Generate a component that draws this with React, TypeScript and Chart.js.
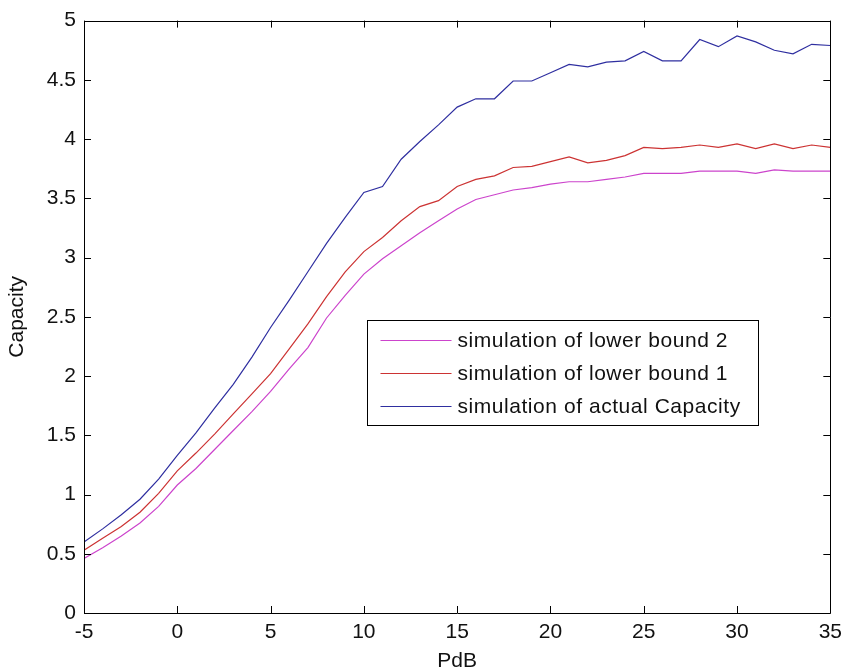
import React, { useEffect, useRef } from "react";
import { Chart, registerables } from "chart.js";

Chart.register(...registerables);

const xValues = [-5,-4,-3,-2,-1,0,1,2,3,4,5,6,7,8,9,10,11,12,13,14,15,16,17,18,19,20,21,22,23,24,25,26,27,28,29,30,31,32,33,34,35];

const lowerBound2 = [0.46,0.55,0.65,0.76,0.90,1.08,1.22,1.38,1.54,1.70,1.87,2.06,2.24,2.49,2.68,2.86,2.99,3.10,3.21,3.31,3.41,3.49,3.53,3.57,3.59,3.62,3.64,3.64,3.66,3.68,3.71,3.71,3.71,3.73,3.73,3.73,3.71,3.74,3.73,3.73,3.73];

const lowerBound1 = [0.53,0.63,0.73,0.85,1.01,1.20,1.35,1.51,1.68,1.85,2.02,2.23,2.44,2.67,2.88,3.05,3.17,3.31,3.43,3.48,3.60,3.66,3.69,3.76,3.77,3.81,3.85,3.80,3.82,3.86,3.93,3.92,3.93,3.95,3.93,3.96,3.92,3.96,3.92,3.95,3.93];

const actualCapacity = [0.60,0.71,0.83,0.96,1.13,1.33,1.52,1.73,1.93,2.16,2.41,2.64,2.88,3.12,3.34,3.55,3.60,3.83,3.98,4.12,4.27,4.34,4.34,4.49,4.49,4.56,4.63,4.61,4.65,4.66,4.74,4.66,4.66,4.84,4.78,4.87,4.82,4.75,4.72,4.80,4.79];

const seriesLabels = [
  "simulation of lower bound 2",
  "simulation of lower bound 1",
  "simulation of actual Capacity",
];
const seriesColors = ["#cc44cc", "#cc3333", "#2f2fa0"];

const xTitle = "PdB";
const yTitle = "Capacity";

const FONT = "'Liberation Sans', Arial, sans-serif";
const FONT_SIZE = 21;

const frameAndLegend = {
  id: "frameAndLegend",
  afterDatasetsDraw(chart: any) {
    const { ctx, chartArea } = chart;
    const { left, right, top, bottom } = chartArea;
    const xs = chart.scales.x;
    const ys = chart.scales.y;
    ctx.save();
    ctx.strokeStyle = "#000";
    ctx.lineWidth = 1;
    ctx.beginPath();
    ctx.rect(Math.round(left) + 0.5, Math.round(top) + 0.5, Math.round(right - left), Math.round(bottom - top));
    ctx.stroke();
    const tl = 7;
    ctx.beginPath();
    xs.ticks.forEach((t: any) => {
      const px = Math.round(xs.getPixelForValue(t.value)) + 0.5;
      ctx.moveTo(px, bottom);
      ctx.lineTo(px, bottom - tl);
      ctx.moveTo(px, top);
      ctx.lineTo(px, top + tl);
    });
    ys.ticks.forEach((t: any) => {
      const py = Math.round(ys.getPixelForValue(t.value)) + 0.5;
      ctx.moveTo(left, py);
      ctx.lineTo(left + tl, py);
      ctx.moveTo(right, py);
      ctx.lineTo(right - tl, py);
    });
    ctx.stroke();

    // legend box
    const bx = Math.round(left + 283) + 0.5;
    const by = Math.round(top + 299) + 0.5;
    const bw = 391;
    const bh = 105;
    ctx.fillStyle = "#fff";
    ctx.fillRect(bx, by, bw, bh);
    ctx.strokeStyle = "#000";
    ctx.strokeRect(bx, by, bw, bh);
    ctx.font = `${FONT_SIZE}px ${FONT}`;
    ctx.textBaseline = "middle";
    ctx.textAlign = "left";
    try { (ctx as any).letterSpacing = "0.55px"; } catch (e) {}
    chart.data.datasets.forEach((ds: any, i: number) => {
      const rowY = Math.round(by + 19 + i * 33) + 0.5;
      ctx.strokeStyle = ds.borderColor;
      ctx.lineWidth = 1.2;
      ctx.beginPath();
      ctx.moveTo(bx + 13, rowY);
      ctx.lineTo(bx + 84, rowY);
      ctx.stroke();
      ctx.fillStyle = "#111";
      ctx.fillText(ds.label, bx + 90, rowY + 1);
    });
    try { (ctx as any).letterSpacing = "0px"; } catch (e) {}
    ctx.restore();
  },
};

export default function App() {
  const canvasRef = useRef<HTMLCanvasElement | null>(null);

  useEffect(() => {
    document.body.style.margin = "0";
    const canvas = canvasRef.current;
    if (!canvas) return;
    const mk = (vals: number[]) => xValues.map((x, i) => ({ x, y: vals[i] }));
    const data = [lowerBound2, lowerBound1, actualCapacity];
    const chart = new Chart(canvas, {
      type: "line",
      data: {
        datasets: data.map((vals, i) => ({
          label: seriesLabels[i],
          data: mk(vals),
          borderColor: seriesColors[i],
          backgroundColor: seriesColors[i],
          borderWidth: 1.2,
          pointRadius: 0,
          tension: 0,
          fill: false,
        })),
      },
      options: {
        animation: false,
        responsive: false,
        maintainAspectRatio: false,
        devicePixelRatio: 1,
        layout: { padding: { top: 19, right: 13, left: 0, bottom: 0 } },
        plugins: {
          legend: { display: false },
          tooltip: { enabled: false },
        },
        scales: {
          x: {
            type: "linear",
            min: -5,
            max: 35,
            grid: { display: false, drawTicks: false },
            border: { display: false },
            ticks: {
              stepSize: 5,
              padding: 7,
              color: "#111",
              font: { family: FONT, size: FONT_SIZE },
              callback: (v: any) => String(v),
              maxRotation: 0,
            },
            title: {
              display: true,
              text: xTitle,
              color: "#111",
              font: { family: FONT, size: FONT_SIZE },
              padding: { top: 0, bottom: -5 },
            },
            afterFit: (s: any) => {
              s.height = 56;
            },
          },
          y: {
            type: "linear",
            min: 0,
            max: 5,
            grid: { display: false, drawTicks: false },
            border: { display: false },
            ticks: {
              stepSize: 0.5,
              padding: 8,
              color: "#111",
              font: { family: FONT, size: FONT_SIZE },
              callback: (v: any) => String(v),
            },
            title: {
              display: true,
              text: yTitle,
              color: "#111",
              font: { family: FONT, size: FONT_SIZE },
              padding: { top: 5, bottom: 0 },
            },
            afterFit: (s: any) => {
              s.width = 84;
            },
          },
        },
      },
      plugins: [frameAndLegend],
    });
    return () => chart.destroy();
  }, []);

  return (
    <div style={{ position: "absolute", left: 0, top: 0, width: 849, height: 669, background: "#fff" }}>
      <canvas ref={canvasRef} width={849} height={669} style={{ width: 849, height: 669, display: "block" }} />
    </div>
  );
}
